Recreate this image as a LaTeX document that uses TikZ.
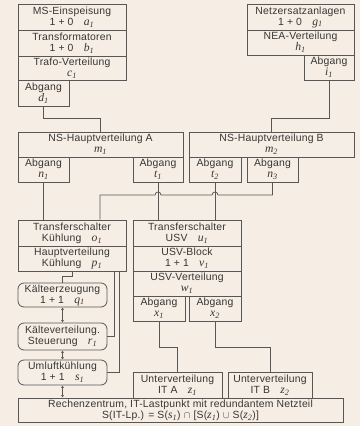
\documentclass[tikz,border=0pt]{standalone}
\usepackage{fontspec}
\setmainfont{Liberation Sans}[LetterSpace=2]
\newfontfamily\varfont{Liberation Serif}[Scale=1.12]
\usetikzlibrary{arrows.meta,calc}
\definecolor{paper}{HTML}{F6EEE4}
\definecolor{ink}{HTML}{575757}
\definecolor{txt}{HTML}{363636}
\newcommand{\idx}[2]{{\varfont\itshape #1\textsubscript{#2}}}

\begin{document}
\begin{tikzpicture}[x=1pt,y=-1pt,
  cell/.style 2 args={rectangle, draw=ink, line width=0.8pt, minimum width=#1, minimum height=#2, inner sep=0pt, align=center, text=txt, font=\fontsize{10.4}{11}\selectfont},
  round/.style={rounded corners=6pt},
  wire/.style={draw=ink, line width=0.8pt},
  both/.style={wire, {Latex[length=2.5pt,width=3pt]}-{Latex[length=2.5pt,width=3pt]}}
]
  \fill[paper] (0,0) rectangle (360,426);
  \useasboundingbox (0,0) rectangle (360,426);

  % Einspeisung links
  \node[cell={108pt}{26pt}] (ms) at (72,17) {MS-Einspeisung\\1 + 0\quad\idx{a}{1}};
  \node[cell={108pt}{26pt}] (trafo) at (72,43) {Transformatoren\\1 + 0\quad\idx{b}{1}};
  \node[cell={108pt}{24pt}] (trafov) at (72,68) {Trafo-Verteilung\\\idx{c}{1}};
  \node[cell={51pt}{26pt}] (d1) at (43.5,93) {Abgang\\\idx{d}{1}};

  % Netzersatz rechts
  \node[cell={107pt}{26pt}] (nea) at (300.5,17) {Netzersatzanlagen\\1 + 0\quad\idx{g}{1}};
  \node[cell={107pt}{25pt}] (neav) at (300.5,42.5) {NEA-Verteilung\\\idx{h}{1}};
  \node[cell={50pt}{25pt}] (i1) at (329,67.5) {Abgang\\\idx{i}{1}};

  % NS-Hauptverteilungen
  \node[cell={165pt}{25pt}] (nsa) at (100.5,144.5) {NS-Hauptverteilung A\\\idx{m}{1}};
  \node[cell={51pt}{25pt}] (n1) at (43.5,169.5) {Abgang\\\idx{n}{1}};
  \node[cell={50pt}{25pt}] (t1) at (158,169.5) {Abgang\\\idx{t}{1}};
  \node[cell={165pt}{25pt}] (nsb) at (271.5,144.5) {NS-Hauptverteilung B\\\idx{m}{2}};
  \node[cell={52pt}{25pt}] (t2) at (215,169.5) {Abgang\\\idx{t}{2}};
  \node[cell={51pt}{25pt}] (n3) at (272.5,169.5) {Abgang\\\idx{n}{3}};

  % Kuehlung
  \node[cell={108pt}{26pt}] (o1) at (72,233) {Transferschalter\\Kühlung\quad\idx{o}{1}};
  \node[cell={108pt}{25pt}] (p1) at (72,258.5) {Hauptverteilung\\Kühlung\quad\idx{p}{1}};
  \node[cell={89pt}{24pt}, round] (q1) at (62.5,295) {Kälteerzeugung\\1 + 1\quad\idx{q}{1}};
  \node[cell={89pt}{27pt}, round] (r1) at (62.5,336.5) {Kälteverteilung.\\Steuerung\quad\idx{r}{1}};
  \node[cell={89pt}{25pt}, round] (s1) at (62.5,372.5) {Umluftkühlung\\1 + 1\quad\idx{s}{1}};

  % USV
  \node[cell={108pt}{26pt}] (u1) at (187,233) {Transferschalter\\USV\quad\idx{u}{1}};
  \node[cell={108pt}{25pt}] (v1) at (187,258.5) {USV-Block\\1 + 1\quad\idx{v}{1}};
  \node[cell={108pt}{25pt}] (w1) at (187,283.5) {USV-Verteilung\\\idx{w}{1}};
  \node[cell={52pt}{25pt}] (x1) at (159,308.5) {Abgang\\\idx{x}{1}};
  \node[cell={52pt}{25pt}] (x2) at (215,308.5) {Abgang\\\idx{x}{2}};

  % IT
  \node[cell={89pt}{26pt}] (za) at (177.5,385) {Unterverteilung\\IT A\quad\idx{z}{1}};
  \node[cell={84pt}{26pt}] (zb) at (270,385) {Unterverteilung\\IT B\quad\idx{z}{2}};
  \node[cell={325pt}{24pt}] (rz) at (180.5,410) {Rechenzentrum, IT-Lastpunkt mit redundantem Netzteil\\S(IT-Lp.) = S(\idx{s}{1}) $\cap$ [S(\idx{z}{1}) $\cup$ S(\idx{z}{2})]};

  % Verbindungen
  \coordinate (bus) at (0,195);
  \draw[wire] (d1.south) -- ++(0,12) -| (nsa.north);
  \draw[wire] (i1.south) -- ++(0,38) -| (nsb.north);
  \draw[wire] (n1.south) -- (n1.south |- o1.north);
  \draw[wire] (t1.south) -- (t1.south |- u1.north);
  \draw[wire] (t2.south) -- (t2.south |- u1.north);
  \draw[wire] (n3.south) |- ([xshift=3pt]t2.south |- bus)
    arc[start angle=0, end angle=180, radius=3pt] -- ([xshift=3pt]t1.south |- bus)
    arc[start angle=0, end angle=180, radius=3pt] -| ([xshift=28pt]o1.north);
  \draw[wire] (p1.south) -- ++(0,5) -| (q1.north);
  \draw[wire] ([xshift=42pt]p1.south) |- (r1.east);
  \draw[wire] ([xshift=47pt]p1.south) |- (s1.east);
  \draw[both] (q1.south) -- (r1.north);
  \draw[both] (r1.south) -- (s1.north);
  \draw[both] (s1.south) -- (s1.south |- rz.north);
  \draw[wire] (x1.south) -- ++(0,26) -| (za.north);
  \draw[wire] (x2.south) -- ++(0,26) -| (zb.north);
\end{tikzpicture}
\end{document}
